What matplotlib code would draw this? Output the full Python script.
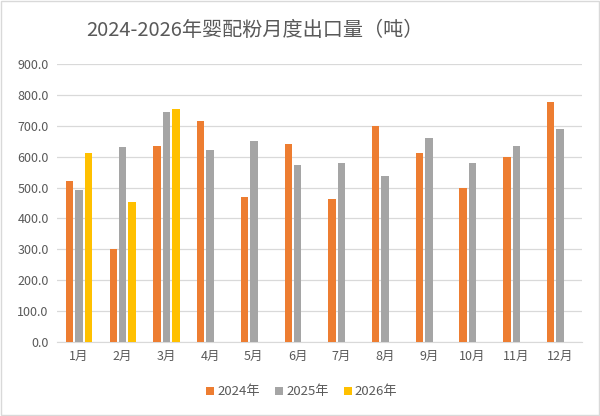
import numpy as np
import matplotlib.pyplot as plt
from matplotlib.patches import Rectangle

plt.rcParams['font.family'] = ['Noto Sans CJK SC', 'DejaVu Sans']

months = ['1月', '2月', '3月', '4月', '5月', '6月', '7月', '8月', '9月', '10月', '11月', '12月']
y2024 = [522, 300, 635, 716, 469, 640, 463, 698, 612, 499, 600, 776]
y2025 = [492, 630, 746, 623, 651, 574, 580, 537, 661, 580, 635, 691]
y2026 = [612, 454, 754, np.nan, np.nan, np.nan, np.nan, np.nan, np.nan, np.nan, np.nan, np.nan]
series = ['2024年', '2025年', '2026年']
colors = ['#ED7D31', '#A5A5A5', '#FFC000']

fig = plt.figure(figsize=(6, 4.16), dpi=100)
ax = fig.add_axes([57/600, 1 - 342/416, (582-57)/600, (342-64)/416])

x = np.arange(len(months))
w = 0.17
off = 0.215
for i, (vals, c, lab) in enumerate(zip([y2024, y2025, y2026], colors, series)):
    ax.bar(x + (i - 1) * off, vals, width=w, color=c, label=lab, zorder=3)

ax.set_xlim(-0.5, len(months) - 0.5)
ax.set_ylim(0, 900)
ax.set_yticks(np.arange(0, 901, 100))
ax.set_yticklabels([f'{v:.1f}' for v in np.arange(0, 901, 100)])
ax.set_xticks(x)
ax.set_xticklabels(months)
ax.tick_params(axis='both', length=0, labelsize=9, labelcolor='#595959', pad=6)
ax.grid(axis='y', color='#D9D9D9', linewidth=0.9, zorder=0)
for s in ['top', 'right', 'left']:
    ax.spines[s].set_visible(False)
ax.spines['bottom'].set_color('#D9D9D9')

fig.text(255/600, 1 - 30/416, '2024-2026年婴配粉月度出口量（吨）', ha='center', va='center',
         fontsize=14.5, color='#595959')
fig.legend(loc='center', bbox_to_anchor=(302/600, 1 - 392/416), ncol=3, frameon=False,
           fontsize=9.5, labelcolor='#595959', handlelength=0.6, handleheight=0.6,
           handletextpad=0.2, columnspacing=1.2)
fig.patches.append(Rectangle((0.002, 0.002), 0.996, 0.996, transform=fig.transFigure,
                             fill=False, edgecolor='#D9D9D9', linewidth=1))

fig.savefig('out.png', dpi=100)
